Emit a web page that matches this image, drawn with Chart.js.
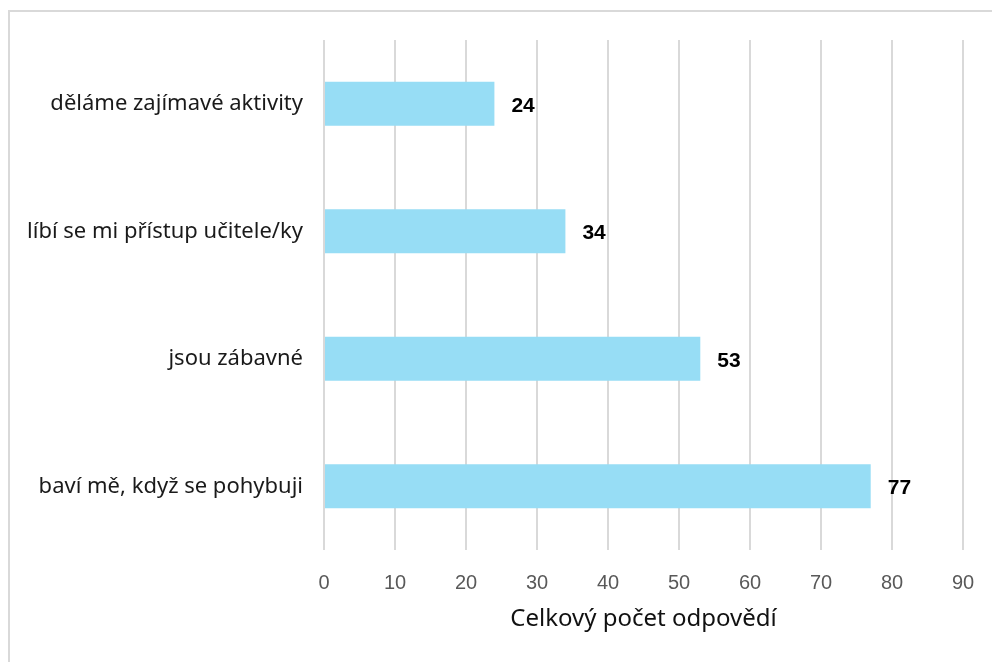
<!DOCTYPE html>
<html>
<head>
<meta charset="utf-8">
<script src="https://cdn.jsdelivr.net/npm/chart.js@4"></script>
<style>
  html, body { margin: 0; padding: 0; background: #fff; overflow: hidden; }
  #wrap { position: relative; width: 992px; height: 662px; }
  #frame { position: absolute; left: 8px; top: 10px; width: 1000px; height: 700px; border: 2px solid #d9d9d9; box-sizing: border-box; }
  canvas { position: absolute; left: 0; top: 0; }
</style>
</head>
<body>
<div id="wrap">
  <div id="frame"></div>
  <canvas id="myChart" width="992" height="662"></canvas>
</div>
<script>
// categories + values
const categories = [
  "děláme zajímavé aktivity",
  "líbí se mi přístup učitele/ky",
  "jsou zábavné",
  "baví mě, když se pohybuji",
];
const answers = [24, 34, 53, 77];
const xTicks = [0, 10, 20, 30, 40, 50, 60, 70, 80, 90];
const axisTitle = "Celkový počet odpovědí";

// draw the bold numbers right of each bar
const barValueLabels = {
  id: "barValueLabels",
  afterDatasetsDraw(chart) {
    const ctx = chart.ctx;
    const meta = chart.getDatasetMeta(0);
    ctx.save();
    ctx.font = "bold 21px 'Liberation Sans', Arial, sans-serif";
    ctx.fillStyle = "#000";
    ctx.textAlign = "left";
    ctx.textBaseline = "middle";
    meta.data.forEach((bar, i) => {
      ctx.fillText(chart.data.datasets[0].data[i], bar.x + 17, bar.y + 2);
    });
    ctx.restore();
  },
};

new Chart("myChart", {
  type: "bar",
  data: {
    labels: categories,
    datasets: [
      {
        data: answers,
        backgroundColor: "#97ddf5",
        borderWidth: 0,
        categoryPercentage: 1,
        barPercentage: 0.345,
      },
    ],
  },
  options: {
    indexAxis: "y",
    responsive: false,
    animation: false,
    layout: { padding: { top: 40, right: 29, left: 0, bottom: 0 } },
    plugins: {
      legend: { display: false },
      tooltip: { enabled: false },
    },
    scales: {
      x: {
        min: 0,
        max: 90,
        afterBuildTicks: (scale) => {
          scale.ticks = xTicks.map((v) => ({ value: v }));
        },
        afterFit: (scale) => {
          scale.height = 112;
          scale.paddingRight = 0;
          scale.paddingLeft = 0;
        },
        grid: { color: "#d9d9d9", lineWidth: 2, drawTicks: false },
        border: { display: false },
        ticks: {
          padding: 21,
          color: "#595959",
          font: { family: "'Liberation Sans', Arial, sans-serif", size: 20 },
        },
        title: {
          display: true,
          text: axisTitle,
          color: "#111",
          padding: { top: 0, bottom: 28 },
          font: { family: "'Noto Sans', sans-serif", size: 24 },
        },
      },
      y: {
        afterFit: (scale) => {
          scale.width = 324;
        },
        grid: { display: false, drawTicks: false },
        border: { display: false },
        ticks: {
          padding: 21,
          color: "#1a1a1a",
          font: { family: "'Noto Sans', sans-serif", size: 22 },
        },
      },
    },
  },
  plugins: [barValueLabels],
});
</script>
</body>
</html>
